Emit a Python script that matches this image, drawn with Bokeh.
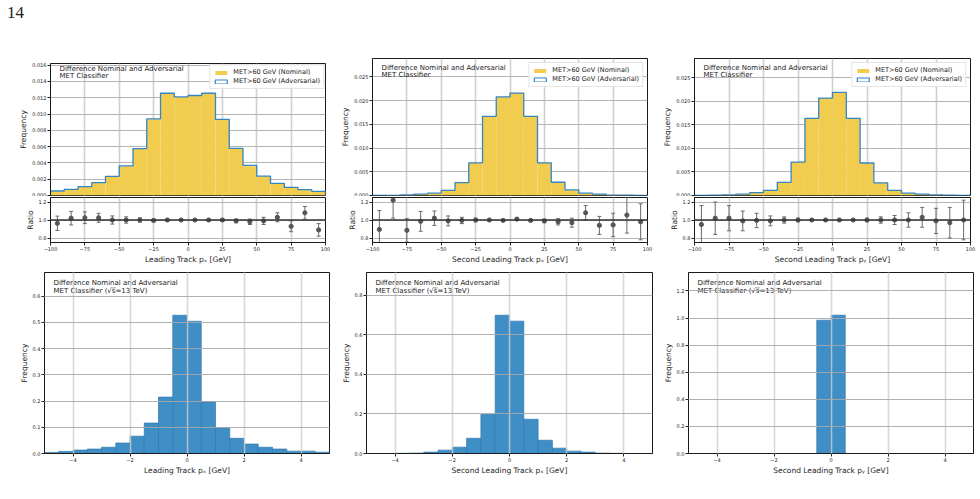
from bokeh.plotting import figure
from bokeh.models import (ColumnDataSource, FixedTicker, PrintfTickFormatter, CustomJSTickFormatter,
                          Range1d, Legend, LegendItem, Label, Span, Whisker, TeeHead, Div)
from bokeh.layouts import column, row
from bokeh.embed import file_html
from bokeh.resources import INLINE

# ---------------- texts ----------------
PAGE_NUMBER = "14"
ANNOT_LINE1 = "Difference Nominal and Adversarial"
ANNOT_LINE2_TOP = "MET Classifier"
ANNOT_LINE2_BOTTOM = "MET Classifier (\u221as\u0305=13 TeV)"
LEGEND_NOMINAL = "MET>60 GeV (Nominal)"
LEGEND_ADVERSARIAL = "MET>60 GeV (Adversarial)"
XLABELS = ["Leading Track p\u2093 [GeV]",
           "Second Leading Track p\u2093 [GeV]",
           "Second Leading Track p\u1d67 [GeV]"]
YLABEL_MAIN = "Frequency"
YLABEL_RATIO = "Ratio"

# ---------------- bins / ticks ----------------
top_edges = [-100, -90, -80, -70, -60, -50, -40, -30, -20, -10, 0,
             10, 20, 30, 40, 50, 60, 70, 80, 90, 100]
top_centers = [-95, -85, -75, -65, -55, -45, -35, -25, -15, -5,
               5, 15, 25, 35, 45, 55, 65, 75, 85, 95]
top_xticks = [-100, -75, -50, -25, 0, 25, 50, 75, 100]
ratio_yticks = [0.8, 1.0, 1.2]
bottom_edges = [-5.0, -4.5, -4.0, -3.5, -3.0, -2.5, -2.0, -1.5, -1.0, -0.5, 0.0,
                0.5, 1.0, 1.5, 2.0, 2.5, 3.0, 3.5, 4.0, 4.5, 5.0]
bottom_xticks = [-4, -2, 0, 2, 4]

# ---------------- panel 1 : leading track px ----------------
p1_nominal = [0.00053, 0.00077, 0.0011, 0.0016, 0.00235, 0.0036, 0.00575, 0.00935, 0.01255, 0.0121,
              0.01227, 0.01255, 0.00935, 0.00575, 0.0036, 0.00235, 0.00154, 0.00093, 0.00077, 0.00045]
p1_adversarial = [0.00055, 0.00076, 0.00108, 0.00157, 0.00235, 0.00363, 0.00576, 0.0094, 0.01255, 0.0121,
                  0.01227, 0.01255, 0.00935, 0.00578, 0.0037, 0.00237, 0.0015, 0.00099, 0.00072, 0.0005]
p1_ratio = [0.963, 1.02, 1.025, 1.025, 1.0, 1.0, 1.0, 0.995, 1.0, 1.0,
            1.0, 1.0, 1.0, 0.99, 0.98, 0.99, 1.03, 0.93, 1.08, 0.89]
p1_ratio_err = [0.08, 0.075, 0.065, 0.05, 0.045, 0.035, 0.025, 0.015, 0.01, 0.008,
                0.008, 0.01, 0.015, 0.02, 0.03, 0.04, 0.05, 0.06, 0.07, 0.07]
p1_yticks = [0.0, 0.002, 0.004, 0.006, 0.008, 0.010, 0.012, 0.014, 0.016]
p1_ymax = 0.0162

# ---------------- panel 2 : second leading track px ----------------
p2_nominal = [0.00002, 0.00005, 0.0001, 0.0003, 0.0005, 0.0011, 0.0027, 0.0069, 0.0167, 0.0208,
              0.0217, 0.0167, 0.0069, 0.0027, 0.0011, 0.0005, 0.0003, 0.0001, 0.00005, 0.00002]
p2_adversarial = [0.00002, 0.00004, 0.00011, 0.0003, 0.0005, 0.0011, 0.0027, 0.0069, 0.0167, 0.0208,
                  0.0216, 0.0167, 0.0069, 0.0028, 0.0012, 0.0005, 0.0003, 0.0001, 0.00005, 0.00002]
p2_ratio = [0.895, 1.22, 0.885, 0.985, 1.02, 0.99, 0.995, 1.0, 1.0, 0.995,
            1.01, 0.995, 0.99, 0.98, 0.97, 1.08, 0.94, 0.945, 1.055, 0.98]
p2_ratio_err = [0.21, 0.2, 0.13, 0.11, 0.08, 0.055, 0.035, 0.02, 0.01, 0.008,
                0.008, 0.01, 0.02, 0.035, 0.05, 0.08, 0.1, 0.13, 0.2, 0.2]
p2_yticks = [0.0, 0.005, 0.010, 0.015, 0.020, 0.025]
p2_ymax = 0.0289

# ---------------- panel 3 : second leading track py ----------------
p3_nominal = [0.00001, 0.00005, 0.00012, 0.0003, 0.0006, 0.0011, 0.0028, 0.0071, 0.0164, 0.0207,
              0.0219, 0.0164, 0.0069, 0.0027, 0.0011, 0.0005, 0.0003, 0.00012, 0.00005, 0.00002]
p3_adversarial = [0.00001, 0.00005, 0.00012, 0.0003, 0.0006, 0.0011, 0.0028, 0.0071, 0.0164, 0.0207,
                  0.0219, 0.0164, 0.0069, 0.0027, 0.0011, 0.0005, 0.0003, 0.00012, 0.00005, 0.00002]
p3_ratio = [0.95, 1.02, 1.02, 0.99, 0.995, 0.99, 1.0, 1.0, 1.0, 1.0,
            1.0, 1.0, 1.0, 1.0, 1.0, 1.0, 1.03, 0.99, 0.97, 1.0]
p3_ratio_err = [0.21, 0.18, 0.14, 0.11, 0.08, 0.055, 0.035, 0.02, 0.01, 0.008,
                0.008, 0.01, 0.02, 0.035, 0.05, 0.08, 0.11, 0.14, 0.17, 0.22]
p3_yticks = [0.0, 0.005, 0.010, 0.015, 0.020, 0.025]
p3_ymax = 0.0291

# ---------------- bottom panels : differences ----------------
b1_freq = [0.004, 0.008, 0.013, 0.017, 0.024, 0.040, 0.066, 0.116, 0.215, 0.527,
           0.504, 0.197, 0.099, 0.058, 0.036, 0.024, 0.017, 0.009, 0.009, 0.005]
b1_yticks = [0.0, 0.1, 0.2, 0.3, 0.4, 0.5, 0.6]
b1_ymax = 0.69

b2_freq = [0.0, 0.0, 0.001, 0.002, 0.007, 0.017, 0.032, 0.077, 0.197, 0.699,
           0.669, 0.173, 0.067, 0.027, 0.012, 0.007, 0.002, 0.001, 0.0, 0.0]
b2_yticks = [0.0, 0.2, 0.4, 0.6, 0.8]
b2_ymax = 0.915

b3_freq = [0.0, 0.0, 0.0, 0.0, 0.0, 0.0, 0.0, 0.0, 0.0, 0.984,
           1.021, 0.0, 0.0, 0.0, 0.0, 0.0, 0.0, 0.0, 0.0, 0.0]
b3_yticks = [0.0, 0.2, 0.4, 0.6, 0.8, 1.0, 1.2]
b3_ymax = 1.336

# ---------------- styles ----------------
YELLOW = "#f1cc4e"
STEP_BLUE = "#3486c3"
BAR_BLUE = "#3f8ec6"
BAR_EDGE = "#2f78ad"
FONT = "DejaVu Sans"
MINUS_FMT = CustomJSTickFormatter(code="return (tick < 0 ? '\u2212' : '') + String(Math.abs(tick));")


def style_common(p, xgrid_color="#d0d0d0", ygrid_color="#b4b4b4"):
    p.outline_line_color = "#1a1a1a"
    p.outline_line_width = 1
    p.background_fill_color = "white"
    p.border_fill_color = "white"
    for ax in p.axis:
        ax.major_label_text_font_size = "5px"
        ax.major_label_text_font = FONT
        ax.major_label_text_color = "#222222"
        ax.axis_label_text_font_size = "7.5px"
        ax.axis_label_text_font = FONT
        ax.axis_label_text_font_style = "normal"
        ax.axis_label_text_color = "#222222"
        ax.major_tick_out = 3
        ax.major_tick_in = 0
        ax.minor_tick_out = 0
        ax.minor_tick_in = 0
        ax.major_tick_line_color = "#222222"
        ax.axis_line_color = "#1a1a1a"
        ax.major_label_standoff = 1
        ax.axis_label_standoff = 1
    p.xgrid.grid_line_color = xgrid_color
    p.xgrid.grid_line_width = 1.6
    p.ygrid.grid_line_color = ygrid_color
    p.ygrid.grid_line_width = 1.2


def add_annot(p, xr, yr, line2, dx, dy1, dy2):
    for txt, dy in ((ANNOT_LINE1, dy1), (line2, dy2)):
        p.add_layout(Label(x=xr.start, y=yr.end, x_offset=dx, y_offset=dy, text=txt,
                           text_baseline="alphabetic", text_align="left",
                           text_font=FONT, text_font_size="7px", text_color="#1a1a1a"))


def outline_points(edges, vals):
    xs = [edges[0]]
    ys = [0.0]
    for i, v in enumerate(vals):
        xs += [edges[i], edges[i + 1]]
        ys += [v, v]
    xs.append(edges[-1])
    ys.append(0.0)
    return xs, ys


def make_top(nominal, adversarial, ratio, ratio_err, yticks, ymax, xlabel,
             width, left, right, top_border, legend_margin, dy1, dy2):
    xr = Range1d(top_edges[0], top_edges[-1])
    yr = Range1d(0, ymax)
    p = figure(width=width, height=146, x_range=xr, y_range=yr, x_axis_location=None,
               output_backend="svg", toolbar_location=None,
               min_border_left=left, min_border_right=right,
               min_border_top=top_border, min_border_bottom=1)
    p.title.visible = False
    style_common(p)
    p.xgrid.ticker = FixedTicker(ticks=top_xticks)
    p.yaxis.ticker = FixedTicker(ticks=yticks)
    p.yaxis.formatter = PrintfTickFormatter(format="%.3f")
    p.yaxis.axis_label = YLABEL_MAIN

    src = ColumnDataSource(dict(left=top_edges[:-1], right=top_edges[1:], top=nominal))
    nom = p.quad(left="left", right="right", bottom=0, top="top", source=src,
                 fill_color=YELLOW, line_color=None)
    xs, ys = outline_points(top_edges, adversarial)
    p.line(xs, ys, line_color=STEP_BLUE, line_width=1.3)
    # hidden renderer that only supplies the legend glyph (outlined box)
    asrc = ColumnDataSource(dict(left=top_edges[:-1], right=top_edges[1:], top=adversarial))
    adv_legend = p.quad(left="left", right="right", bottom=0, top="top", source=asrc,
                        fill_color="white", fill_alpha=1.0, line_color=STEP_BLUE,
                        line_width=1.2, visible=False)
    legend = Legend(items=[LegendItem(label=LEGEND_NOMINAL, renderers=[nom]),
                           LegendItem(label=LEGEND_ADVERSARIAL, renderers=[adv_legend])],
                    location="top_right", margin=legend_margin, padding=3, spacing=1,
                    label_height=8, glyph_height=5, glyph_width=15, label_standoff=5,
                    label_text_font=FONT, label_text_font_size="6.5px", label_text_color="#1a1a1a",
                    border_line_color="#cccccc", border_line_width=0.8,
                    background_fill_alpha=0.85, inactive_fill_alpha=0.0,
                    click_policy="none")
    p.add_layout(legend)
    add_annot(p, xr, yr, ANNOT_LINE2_TOP, 9, dy1, dy2)

    r = figure(width=width, height=70, x_range=xr, y_range=Range1d(0.75, 1.25),
               output_backend="svg", toolbar_location=None,
               min_border_left=left, min_border_right=right,
               min_border_top=1, min_border_bottom=24)
    r.title.visible = False
    style_common(r)
    r.xaxis.ticker = FixedTicker(ticks=top_xticks)
    r.xaxis.formatter = MINUS_FMT
    r.xaxis.axis_label = xlabel
    r.yaxis.ticker = FixedTicker(ticks=ratio_yticks)
    r.yaxis.formatter = PrintfTickFormatter(format="%.1f")
    r.yaxis.axis_label = YLABEL_RATIO
    r.add_layout(Span(location=1.0, dimension="width", line_color="#333333", line_width=1.3))
    rsrc = ColumnDataSource(dict(x=top_centers, y=ratio,
                                 lower=[v - e for v, e in zip(ratio, ratio_err)],
                                 upper=[v + e for v, e in zip(ratio, ratio_err)]))
    r.add_layout(Whisker(base="x", lower="lower", upper="upper", source=rsrc,
                         line_color="#6a6a6a", line_width=1,
                         lower_head=TeeHead(size=4, line_color="#6a6a6a", line_width=1),
                         upper_head=TeeHead(size=4, line_color="#6a6a6a", line_width=1)))
    r.scatter("x", "y", source=rsrc, size=4.2, color="#555555")
    return column(p, r)


def make_bottom(freq, yticks, ymax, xlabel, width, left, right):
    xr = Range1d(bottom_edges[0], bottom_edges[-1])
    yr = Range1d(0, ymax)
    p = figure(width=width, height=233, x_range=xr, y_range=yr,
               output_backend="svg", toolbar_location=None,
               min_border_left=left, min_border_right=right,
               min_border_top=6, min_border_bottom=46)
    p.title.visible = False
    style_common(p, xgrid_color="#cfcfcf", ygrid_color="#a8a8a8")
    p.xgrid.grid_line_alpha = 0.8
    p.ygrid.grid_line_alpha = 0.9
    p.xgrid.level = "overlay"
    p.ygrid.level = "overlay"
    p.xaxis.ticker = FixedTicker(ticks=bottom_xticks)
    p.xaxis.formatter = MINUS_FMT
    p.xaxis.axis_label = xlabel
    p.yaxis.ticker = FixedTicker(ticks=yticks)
    p.yaxis.formatter = PrintfTickFormatter(format="%.1f")
    p.yaxis.axis_label = YLABEL_MAIN
    src = ColumnDataSource(dict(left=bottom_edges[:-1], right=bottom_edges[1:], top=freq))
    p.quad(left="left", right="right", bottom=0, top="top", source=src,
           fill_color=BAR_BLUE, line_color=BAR_EDGE, line_width=0.7)
    add_annot(p, xr, yr, ANNOT_LINE2_BOTTOM, 9, -10, -18.5)
    return p


top1 = make_top(p1_nominal, p1_adversarial, p1_ratio, p1_ratio_err, p1_yticks, p1_ymax, XLABELS[0],
                330, 50, 5, 13, 1, -5.5, -12)
top2 = make_top(p2_nominal, p2_adversarial, p2_ratio, p2_ratio_err, p2_yticks, p2_ymax, XLABELS[1],
                330, 42, 13, 8, 4, -9.5, -16.2)
top3 = make_top(p3_nominal, p3_adversarial, p3_ratio, p3_ratio_err, p3_yticks, p3_ymax, XLABELS[2],
                320, 33, 10, 8, 4, -9.8, -16.3)

bot1 = make_bottom(b1_freq, b1_yticks, b1_ymax, XLABELS[0], 330, 44, 1)
bot2 = make_bottom(b2_freq, b2_yticks, b2_ymax, XLABELS[1], 330, 36, 8)
bot3 = make_bottom(b3_freq, b3_yticks, b3_ymax, XLABELS[2], 320, 28, 7)

header = Div(text=('<div style="font-family:\'Liberation Serif\',\'DejaVu Serif\',serif;'
                   'font-size:17px;line-height:17px;color:#222;padding:4px 0 0 7px;">'
                   + PAGE_NUMBER + '</div>'), width=980, height=50, margin=(0, 0, 0, 0))

layout = column(header, row(top1, top2, top3), row(bot1, bot2, bot3), spacing=0)

html = file_html(layout, INLINE, title="chart")
with open("out.html", "w") as f:
    f.write(html)
